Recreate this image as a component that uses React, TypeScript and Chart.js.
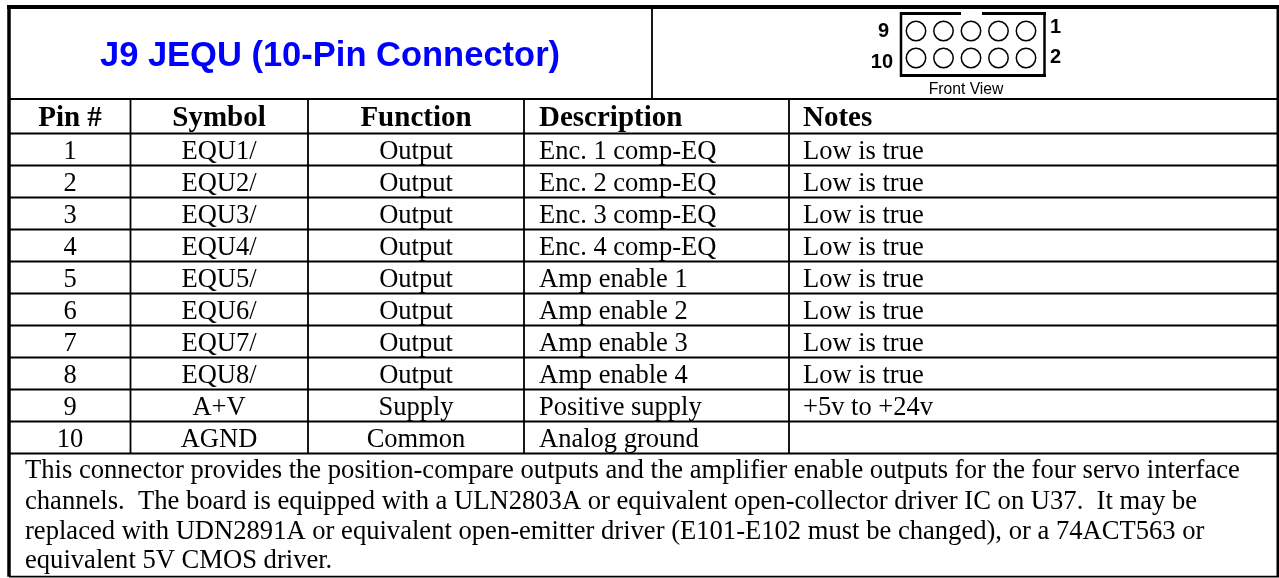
import React, { useEffect, useRef } from "react";
import { Chart, registerables } from "chart.js";

Chart.register(...registerables);

const WIDTH = 1279;
const HEIGHT = 578;

// Table content
const title = "J9 JEQU (10-Pin Connector)";
const headers = ["Pin #", "Symbol", "Function", "Description", "Notes"];
const pins = ["1", "2", "3", "4", "5", "6", "7", "8", "9", "10"];
const symbols = ["EQU1/", "EQU2/", "EQU3/", "EQU4/", "EQU5/", "EQU6/", "EQU7/", "EQU8/", "A+V", "AGND"];
const functions = ["Output", "Output", "Output", "Output", "Output", "Output", "Output", "Output", "Supply", "Common"];
const descriptions = [
  "Enc. 1 comp-EQ", "Enc. 2 comp-EQ", "Enc. 3 comp-EQ", "Enc. 4 comp-EQ",
  "Amp enable 1", "Amp enable 2", "Amp enable 3", "Amp enable 4",
  "Positive supply", "Analog ground",
];
const notes = ["Low is true", "Low is true", "Low is true", "Low is true", "Low is true", "Low is true", "Low is true", "Low is true", "+5v to +24v", ""];
const footnote = [
  "This connector provides the position-compare outputs and the amplifier enable outputs for the four servo interface",
  "channels.  The board is equipped with a ULN2803A or equivalent open-collector driver IC on U37.  It may be",
  "replaced with UDN2891A or equivalent open-emitter driver (E101-E102 must be changed), or a 74ACT563 or",
  "equivalent 5V CMOS driver.",
];
const frontView = "Front View";
const pinLabelsLeft = ["9", "10"];
const pinLabelsRight = ["1", "2"];

// Table grid, in the chart's own axis units
const columnEdges = [9, 130.5, 308, 524, 789, 1278];
const columnCentres = [70, 219, 416];
const textColumns = [539, 803];
const titleDivider = 652;
const rowEdges = [99, 133.5, 165.5, 197.5, 229.5, 261.5, 293.5, 325.5, 357.5, 389.5, 421.5, 453.5];
const tableTop = 7;
const tableBottom = 576.7;
const footLines = [477.5, 508.5, 538.5, 567.5];
const connectorPinX = [916, 943.5, 971, 998.5, 1026];
const connectorPinY = [31, 58];

type Seg = { x: number; y: number }[];
const seg = (x1: number, y1: number, x2: number, y2: number): Seg => [{ x: x1, y: y1 }, { x: x2, y: y2 }];

const lineDs = (data: Seg, width: number) => ({
  type: "line" as const,
  data,
  borderColor: "#000",
  borderWidth: width,
  pointRadius: 0,
  tension: 0,
  parsing: false as const,
  borderCapStyle: "butt" as const,
});

const textPlugin = {
  id: "tableText",
  afterDatasetsDraw(chart: any) {
    const { ctx, scales } = chart;
    const X = (v: number) => scales.x.getPixelForValue(v);
    const Y = (v: number) => scales.y.getPixelForValue(v);
    const put = (s: string, x: number, y: number, font: string, align: CanvasTextAlign, color = "#000") => {
      ctx.font = font;
      ctx.textAlign = align;
      ctx.textBaseline = "alphabetic";
      ctx.fillStyle = color;
      ctx.fillText(s, X(x), Y(y));
    };
    ctx.save();
    const serif = '"Liberation Serif"';
    const sans = '"Liberation Sans"';
    put(title, 330, 66, `bold 34.5px ${sans}`, "center", "#0000ff");
    const hf = `bold 29px ${serif}`;
    const bf = `26.5px ${serif}`;
    [0, 1, 2].forEach((c) => put(headers[c], columnCentres[c], 126, hf, "center"));
    put(headers[3], textColumns[0], 126, hf, "left");
    put(headers[4], textColumns[1], 126, hf, "left");
    pins.forEach((p, i) => {
      const y = rowEdges[i + 2] - 7;
      put(p, columnCentres[0], y, bf, "center");
      put(symbols[i], columnCentres[1], y, bf, "center");
      put(functions[i], columnCentres[2], y, bf, "center");
      put(descriptions[i], textColumns[0], y, bf, "left");
      put(notes[i], textColumns[1], y, bf, "left");
    });
    footnote.forEach((l, i) => put(l, 25, footLines[i], `26.6px ${serif}`, "left"));
    put(frontView, 966, 94, `15.7px ${sans}`, "center");
    const pf = `bold 20px ${sans}`;
    pinLabelsLeft.forEach((s, i) => put(s, [889, 893][i], [37, 68][i], pf, "right"));
    pinLabelsRight.forEach((s, i) => put(s, 1050, [33, 63][i], pf, "left"));
    ctx.restore();
  },
};

export default function App() {
  const ref = useRef<HTMLCanvasElement>(null);
  useEffect(() => {
    const vertical = columnEdges.slice(1, 5).map((x) => lineDs(seg(x, rowEdges[0], x, rowEdges[rowEdges.length - 1]), 1.8));
    const horizontal = rowEdges.map((y) => lineDs(seg(columnEdges[0], y, columnEdges[5], y), 1.8));
    const datasets: any[] = [
      ...vertical,
      ...horizontal,
      lineDs(seg(titleDivider, tableTop, titleDivider, rowEdges[0]), 1.8),
      lineDs(seg(columnEdges[0] - 2, tableTop, WIDTH, tableTop), 4),
      lineDs(seg(columnEdges[0], tableTop, columnEdges[0], tableBottom), 3.5),
      lineDs(seg(columnEdges[5], tableTop, columnEdges[5], tableBottom), 3),
      lineDs(seg(columnEdges[0], tableBottom, WIDTH, tableBottom), 1.8),
      // connector outline
      lineDs(seg(900, 13.5, 961, 13.5), 3),
      lineDs(seg(982, 13.5, 1046, 13.5), 3),
      lineDs(seg(901, 12, 901, 77), 2.5),
      lineDs(seg(1044.5, 12, 1044.5, 77), 2.5),
      lineDs(seg(900, 75.5, 1046, 75.5), 3),
      {
        type: "scatter" as const,
        data: connectorPinY.flatMap((y) => connectorPinX.map((x) => ({ x, y }))),
        parsing: false,
        pointStyle: "circle",
        pointRadius: 9.7,
        borderWidth: 1.5,
        borderColor: "#000",
        backgroundColor: "rgba(0,0,0,0)",
      },
    ];
    const chart = new Chart(ref.current!, {
      type: "scatter",
      data: { datasets },
      options: {
        animation: false,
        responsive: false,
        layout: { padding: 0, autoPadding: false },
        plugins: { legend: { display: false }, tooltip: { enabled: false }, title: { display: false } },
        scales: {
          x: { type: "linear", min: 0, max: WIDTH, display: false },
          y: { type: "linear", min: 0, max: HEIGHT, reverse: true, display: false },
        },
      },
      plugins: [textPlugin],
    } as any);
    return () => chart.destroy();
  }, []);
  return (
    <canvas
      ref={ref}
      width={WIDTH}
      height={HEIGHT}
      style={{ position: "fixed", left: 0, top: 0, display: "block", background: "#fff" }}
    />
  );
}
